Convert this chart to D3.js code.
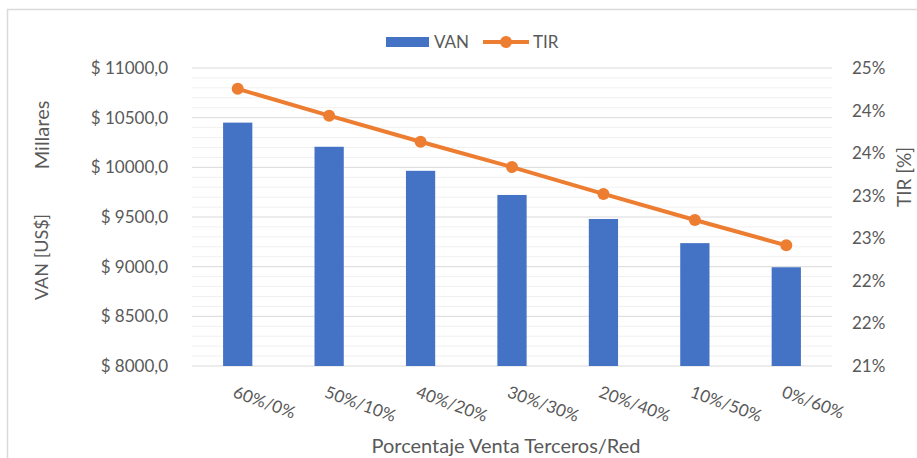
<!DOCTYPE html>
<html><head><meta charset="utf-8">
<script src="https://cdn.jsdelivr.net/npm/d3@7"></script>
<style>body{margin:0;background:#fff}svg{display:block}text{font-family:Lato,"Open Sans",sans-serif;fill:#595959}</style>
</head><body>
<svg id="c" width="917" height="458"></svg>
<script>
const categories = ["60%/0%","50%/10%","40%/20%","30%/30%","20%/40%","10%/50%","0%/60%"];
const vanValues = [10450, 10207, 9965, 9722, 9480, 9237, 8994]; // miles de US$
const tirValues = [24.72, 24.36, 24.01, 23.67, 23.31, 22.96, 22.62]; // %
const vanTicks = [8000, 8500, 9000, 9500, 10000, 10500, 11000];
const tirTicks = [21, 21.5714, 22.1429, 22.7143, 23.2857, 23.8571, 24.4286, 25];

const svg = d3.select("#c");
const L = 192, R = 832, T = 68, B = 366;

svg.append("rect").attr("x",7.5).attr("y",9.5).attr("width",920).attr("height",460)
  .attr("fill","#fff").attr("stroke","#d9d9d9").attr("stroke-width",1.5);

const x = d3.scaleBand().domain(categories).range([L,R]).padding(0);
const yL = d3.scaleLinear().domain([8000,11000]).range([B,T]);
const yR = d3.scaleLinear().domain([21,25]).range([B,T]);

// minor gridlines
const minor = d3.range(8000, 11001, 100).filter(v => v % 500 !== 0);
svg.append("g").selectAll("line").data(minor).join("line")
  .attr("x1",L).attr("x2",R).attr("y1",d=>yL(d)).attr("y2",d=>yL(d))
  .attr("stroke","#f0f0f0").attr("stroke-width",1);
svg.append("g").selectAll("line").data(vanTicks).join("line")
  .attr("x1",L).attr("x2",R).attr("y1",d=>yL(d)).attr("y2",d=>yL(d))
  .attr("stroke","#d9d9d9").attr("stroke-width",1);

// left axis
const fmtL = v => "$ " + d3.format(".1f")(v).replace(".", ",");
const axL = svg.append("g").attr("transform",`translate(${L-24},0)`)
  .call(d3.axisLeft(yL).tickValues(vanTicks).tickFormat(fmtL).tickSize(0).tickPadding(0));
axL.select(".domain").remove();
axL.selectAll("text").attr("font-size",17).style("fill","#595959").attr("font-family","Lato");

// right axis
const axR = svg.append("g").attr("transform",`translate(${R+20},0)`)
  .call(d3.axisRight(yR).tickValues(tirTicks).tickFormat(v => d3.format(".0f")(v) + "%").tickSize(0).tickPadding(0));
axR.select(".domain").remove();
axR.selectAll("text").attr("font-size",17).style("fill","#595959").attr("font-family","Lato");

// bars
const bw = x.bandwidth()*0.32;
svg.append("g").selectAll("rect").data(categories).join("rect")
  .attr("x",(d)=>x(d)+x.bandwidth()/2-bw/2).attr("width",bw)
  .attr("y",(d,i)=>yL(vanValues[i])).attr("height",(d,i)=>B-yL(vanValues[i]))
  .attr("fill","#4472C4");

// line
const pts = categories.map((c,i)=>[x(c)+x.bandwidth()/2, yR(tirValues[i])]);
svg.append("path").attr("d",d3.line()(pts)).attr("fill","none")
  .attr("stroke","#ED7D31").attr("stroke-width",4).attr("stroke-linejoin","round");
svg.append("g").selectAll("circle").data(pts).join("circle")
  .attr("cx",d=>d[0]).attr("cy",d=>d[1]).attr("r",6).attr("fill","#ED7D31");

// x labels
svg.append("g").selectAll("text").data(categories).join("text")
  .attr("transform",d=>`translate(${x(d)+x.bandwidth()/2-1},${384}) rotate(20)`)
  .attr("dy","0.8em").attr("font-size",17).text(d=>d);

// axis titles
svg.append("text").attr("x",506).attr("y",453).attr("text-anchor","middle").attr("font-size",20).text("Porcentaje Venta Terceros/Red");
svg.append("text").attr("transform","translate(48,257) rotate(-90)").attr("text-anchor","middle").attr("font-size",18).text("VAN [US$]");
svg.append("text").attr("transform","translate(49,135) rotate(-90)").attr("text-anchor","middle").attr("font-size",20).text("Millares");
svg.append("text").attr("transform","translate(911,177) rotate(-90)").attr("text-anchor","middle").attr("font-size",19).text("TIR [%]");

// legend
const lg = svg.append("g");
lg.append("rect").attr("x",386).attr("y",37).attr("width",43).attr("height",10).attr("fill","#4472C4");
lg.append("text").attr("x",434).attr("y",48).attr("font-size",17).text("VAN");
lg.append("line").attr("x1",483).attr("x2",529).attr("y1",42).attr("y2",42).attr("stroke","#ED7D31").attr("stroke-width",4);
lg.append("circle").attr("cx",506).attr("cy",42).attr("r",6).attr("fill","#ED7D31");
lg.append("text").attr("x",533).attr("y",48).attr("font-size",17).text("TIR");
</script>
</body></html>
